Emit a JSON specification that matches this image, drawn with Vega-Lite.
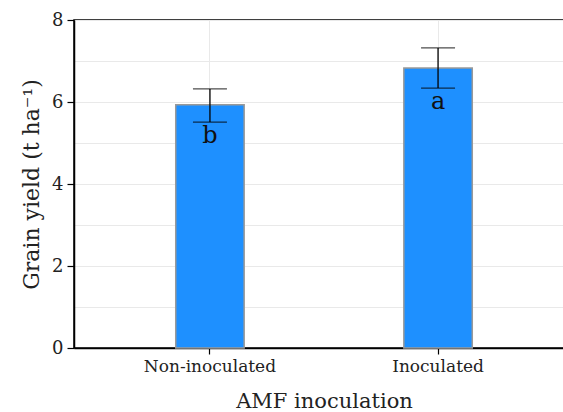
{
  "$schema": "https://vega.github.io/schema/vega-lite/v6.json",
  "autosize": "none",
  "padding": {"left": 74, "top": 20, "right": 0, "bottom": 64},
  "width": 500,
  "height": 328,
  "background": "white",
  "config": {
    "font": "DejaVu Serif",
    "view": {"stroke": "black", "strokeWidth": 1.5},
    "axis": {
      "labelFont": "DejaVu Serif",
      "titleFont": "DejaVu Serif",
      "labelColor": "#222",
      "titleColor": "#222",
      "titleFontWeight": "normal",
      "domainColor": "black",
      "domainWidth": 1.5,
      "tickColor": "black",
      "tickWidth": 1.2,
      "gridColor": "#e9e9e9",
      "gridWidth": 1
    }
  },
  "data": {
    "values": [
      {"treatment": "Non-inoculated", "yield": 5.93, "lower": 5.51, "upper": 6.32, "letter": "b"},
      {"treatment": "Inoculated", "yield": 6.83, "lower": 6.34, "upper": 7.32, "letter": "a"}
    ]
  },
  "encoding": {
    "x": {
      "field": "treatment",
      "type": "nominal",
      "sort": ["Non-inoculated", "Inoculated"],
      "scale": {"paddingInner": 0.7, "paddingOuter": 0.446},
      "axis": {
        "title": "AMF inoculation",
        "titleFontSize": 21,
        "titlePadding": 16,
        "labelFontSize": 17,
        "labelAngle": 0,
        "labelPadding": 4,
        "tickSize": 6,
        "grid": true
      }
    }
  },
  "layer": [
    {
      "mark": {"type": "bar", "color": "#1E90FF", "stroke": "#999999", "strokeWidth": 1.5},
      "encoding": {
        "y": {
          "field": "yield",
          "type": "quantitative",
          "scale": {"domain": [0, 8], "nice": false},
          "axis": {
            "title": "Grain yield (t ha⁻¹)",
            "titleFontSize": 22,
            "titlePadding": 8,
            "labelFontSize": 18,
            "labelPadding": 4,
            "tickSize": 7,
            "values": [0, 1, 2, 3, 4, 5, 6, 7, 8],
            "labelExpr": "datum.value % 2 == 0 ? datum.label : ''",
            "tickOpacity": {"condition": {"test": "datum.value % 2 == 0", "value": 1}, "value": 0},
            "grid": true
          }
        }
      }
    },
    {
      "mark": {"type": "rule", "color": "black", "strokeWidth": 1.3},
      "encoding": {
        "y": {"field": "lower", "type": "quantitative"},
        "y2": {"field": "upper"}
      }
    },
    {
      "mark": {"type": "tick", "color": "black", "size": 34, "thickness": 1.3},
      "encoding": {"y": {"field": "upper", "type": "quantitative"}}
    },
    {
      "mark": {"type": "tick", "color": "black", "size": 34, "thickness": 1.3},
      "encoding": {"y": {"field": "lower", "type": "quantitative"}}
    },
    {
      "mark": {"type": "text", "fontSize": 24, "baseline": "top", "dy": 2, "color": "#111", "font": "DejaVu Serif"},
      "encoding": {
        "y": {"field": "lower", "type": "quantitative"},
        "text": {"field": "letter"}
      }
    }
  ]
}
